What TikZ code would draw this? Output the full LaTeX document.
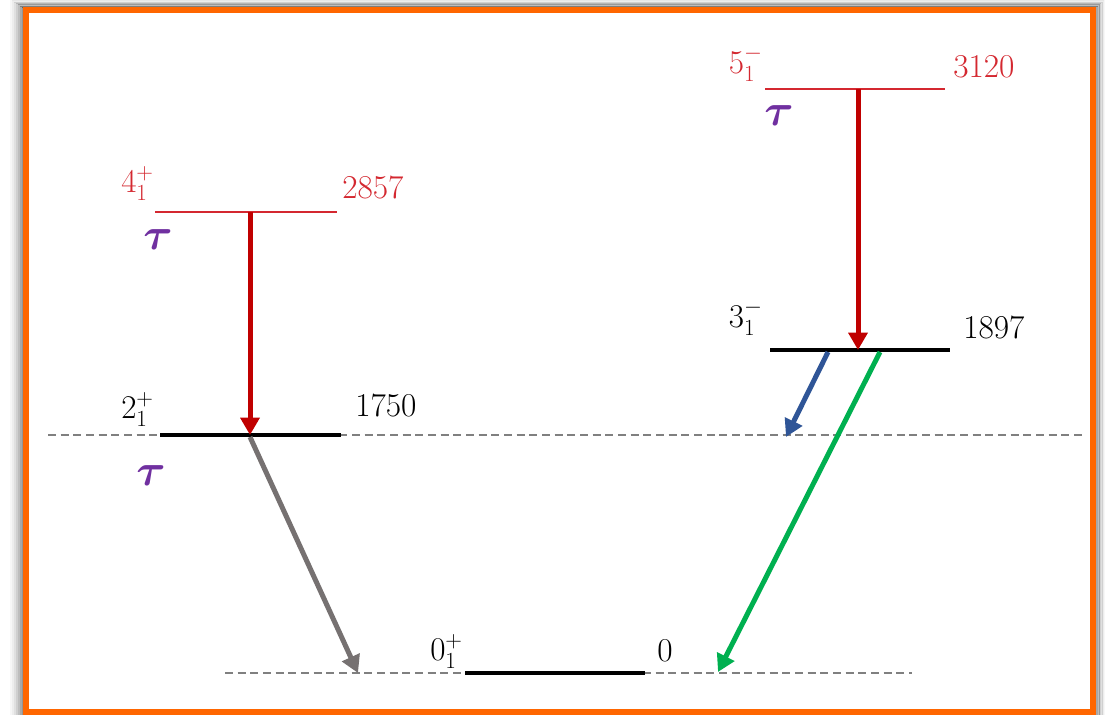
\documentclass[tikz,border=0pt]{standalone}
\usepackage{graphicx}
\usepackage{amsmath,bm}
\usetikzlibrary{arrows.meta}

\definecolor{frameorange}{RGB}{255,102,0}
\definecolor{arrowred}{RGB}{192,0,0}
\definecolor{levelred}{RGB}{212,40,48}
\definecolor{taupurple}{RGB}{112,48,160}
\definecolor{gammagreen}{RGB}{0,176,80}
\definecolor{gammablue}{RGB}{47,85,151}
\definecolor{gammagray}{RGB}{118,113,113}

\newcommand{\lifetau}{\scalebox{1.35}{$\bm{\tau}$}}

\tikzset{
  ground/.style={line width=3pt, black},
  excited/.style={line width=1pt, levelred},
  guide/.style={gray, line width=1.5pt, dash pattern=on 6pt off 3.5pt},
  gamma/.style={line width=3.75pt, -{Triangle[length=13pt,width=14pt]}},
  spin/.style={anchor=base east, inner sep=0pt, font=\fontsize{23}{26}\selectfont},
  energy/.style={anchor=base west, inner sep=0pt, font=\fontsize{25}{28}\selectfont},
  lifetime/.style={text=taupurple, inner sep=0pt, font=\fontsize{25}{28}\selectfont},
}

\begin{document}
\begin{tikzpicture}[x=0.75pt, y=-0.75pt]
    \useasboundingbox (0,0) rectangle (1105,714);

    % Frame with soft shadow
    \foreach \d/\o in {1/0.50, 3/0.42, 5/0.34, 7/0.26, 9/0.19, 11/0.12, 13/0.07, 15/0.03} {
        \draw[black, opacity=\o, line width=1.6pt] (26-\d,10-0.65*\d) rectangle (1093+0.8*\d,720);
    }
    \fill[white] (26,10) rectangle (1093,714);
    \draw[frameorange, line width=4.5pt] (26,10) rectangle (1093,712);

    % Guide lines
    \coordinate (d1a) at (48,435);
    \coordinate (d1b) at (1082,435);
    \coordinate (d0a) at (225,673);
    \coordinate (d0b) at (912,673);
    \draw[guide] (d1a) -- (d1b);
    \draw[guide] (d0a) -- (d0b);

    % Levels
    \coordinate (l4a) at (155,212);  \coordinate (l4b) at (337,212);
    \coordinate (l5a) at (765,89);   \coordinate (l5b) at (945,89);
    \coordinate (l3a) at (770,350);  \coordinate (l3b) at (950,350);
    \coordinate (l2a) at (160,435);  \coordinate (l2b) at (341,435);
    \coordinate (l0a) at (465,673);  \coordinate (l0b) at (645,673);
    \draw[excited] (l4a) -- (l4b);
    \draw[excited] (l5a) -- (l5b);
    \draw[ground] (l3a) -- (l3b);
    \draw[ground] (l2a) -- (l2b);
    \draw[ground] (l0a) -- (l0b);

    % Level labels
    \node[spin, levelred] (s4) at (154,192) {$4^+_1$};
    \node[energy, levelred] (e4) at (342,198) {2857};
    \node[spin, levelred] (s5) at (763,73) {$5^-_1$};
    \node[energy, levelred] (e5) at (953,77) {3120};
    \node[spin] (s3) at (763,327) {$3^-_1$};
    \node[energy] (e3) at (963,338) {1897};
    \node[spin] (s2) at (154,418) {$2^+_1$};
    \node[energy] (e2) at (355,416) {1750};
    \node[spin] (s0) at (463,660) {$0^+_1$};
    \node[energy] (e0) at (657,661) {0};

    % Lifetimes
    \node[lifetime] (t4) at (158,240) {\lifetau};
    \node[lifetime] (t5) at (779,116) {\lifetau};
    \node[lifetime] (t2) at (151,476) {\lifetau};

    % Transitions
    \coordinate (g1s) at (250,212);  \coordinate (g1e) at (250,435);
    \coordinate (g2s) at (858,89);   \coordinate (g2e) at (858,350);
    \coordinate (g3s) at (250,437);  \coordinate (g3e) at (358,673);
    \coordinate (g4s) at (880,352);  \coordinate (g4e) at (718,672);
    \coordinate (g5s) at (828,352);  \coordinate (g5e) at (786,437);
    \draw[gamma, arrowred] (g1s) -- (g1e);
    \draw[gamma, arrowred] (g2s) -- (g2e);
    \draw[gamma, gammagray] (g3s) -- (g3e);
    \draw[gamma, gammagreen] (g4s) -- (g4e);
    \draw[gamma, gammablue] (g5s) -- (g5e);
\end{tikzpicture}
\end{document}
